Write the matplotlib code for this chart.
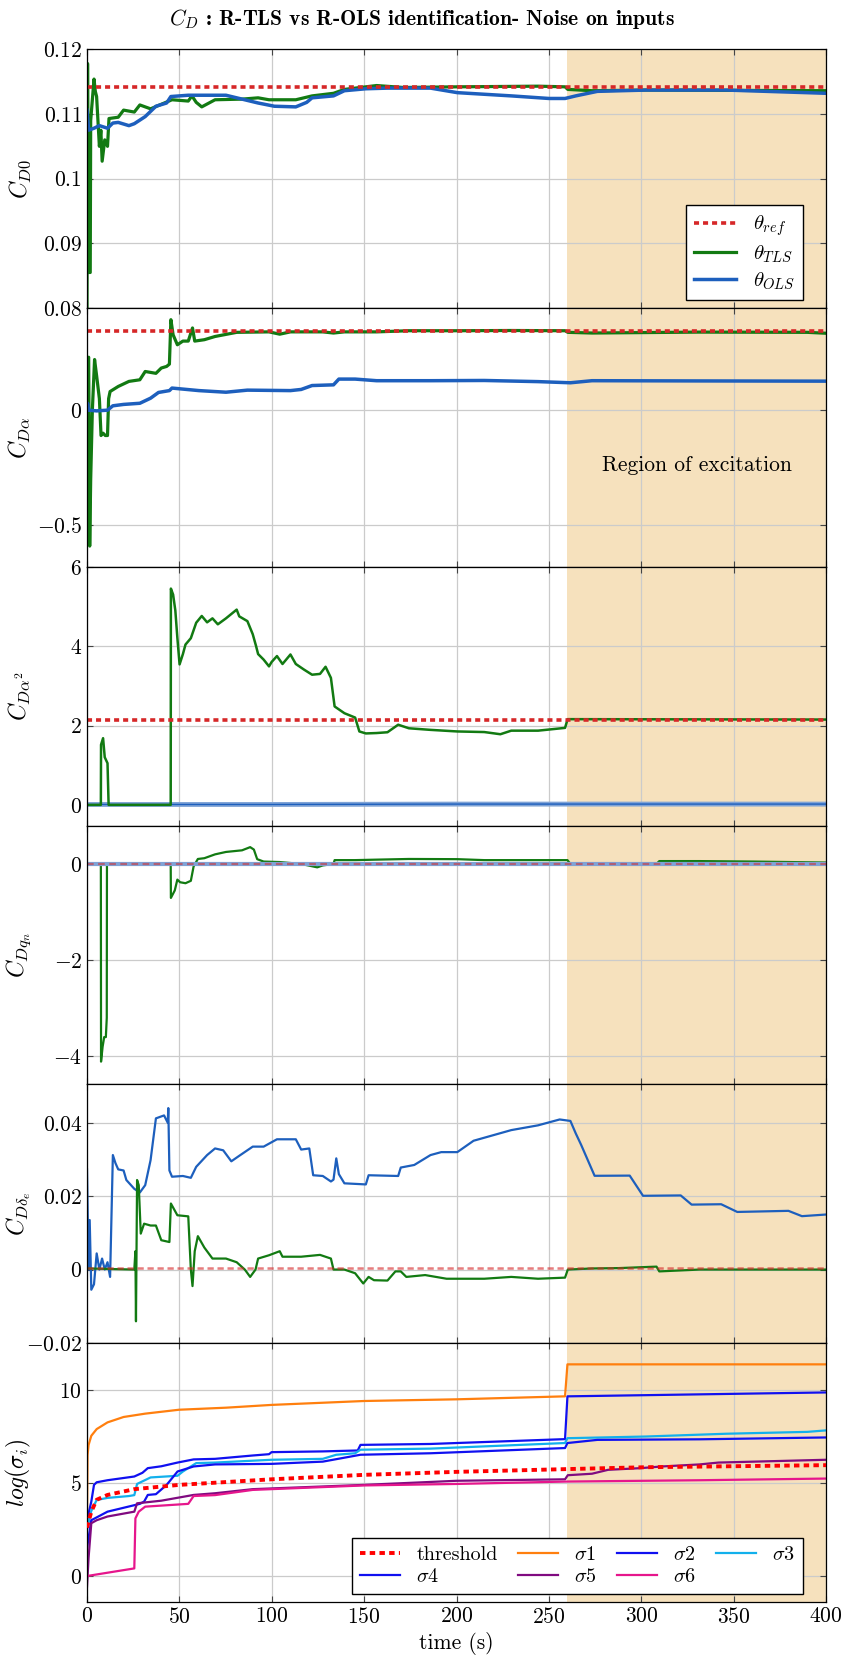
import matplotlib
matplotlib.use('Agg')
import matplotlib.pyplot as plt
from matplotlib.ticker import FuncFormatter

plt.rcParams['font.family'] = 'serif'
plt.rcParams['font.serif'] = ['cmr10', 'DejaVu Serif']
plt.rcParams['mathtext.fontset'] = 'cm'
plt.rcParams['axes.formatter.use_mathtext'] = True

# colours
c_ref = '#d62728'
c_tls = '#127a12'
c_ols = '#1d5fbd'
c_region = '#f6e1bd'

# ---------------- data ----------------
# C_D0
t_ref = [0, 400]
cd0_ref = [0.1141, 0.1141]
t_cd0_tls = [0, 0.3, 0.9, 1.75, 2.0, 3.8, 4.5, 5.2, 6.7, 7.5, 8.2, 9.6, 11.1, 11.9, 16.9, 19.8, 25.6, 28.6,
             34.4, 40.2, 46.0, 54.8, 56.8, 59.1, 62.1, 69.3, 83.9, 92.6, 98.5, 113.0, 121.8, 133.4, 139.3,
             150.9, 156.7, 171.3, 200.4, 244.1, 258.7, 260.2, 273.3, 302.4, 400]
cd0_tls = [0.080, 0.1178, 0.0855, 0.0855, 0.109, 0.1154, 0.1135, 0.1127, 0.105, 0.1075, 0.1027, 0.106,
           0.105, 0.1093, 0.1095, 0.1106, 0.1103, 0.1114, 0.1108, 0.1115, 0.1122, 0.1120, 0.1128, 0.1118,
           0.1111, 0.1122, 0.1123, 0.1125, 0.1122, 0.1122, 0.1128, 0.1132, 0.1138, 0.1142, 0.1144, 0.1141,
           0.1142, 0.1143, 0.1142, 0.1138, 0.1136, 0.1137, 0.1136]
t_cd0_ols = [0, 0.9, 3.8, 6.7, 11.1, 14.0, 16.9, 22.7, 25.6, 31.5, 37.3, 43.1, 45.4, 54.8, 75.2, 81.0,
             92.6, 101.4, 113.0, 118.9, 121.8, 133.4, 139.3, 150.9, 162.6, 185.9, 200.4, 229.6, 250.0,
             258.7, 264.5, 276.2, 302.4, 346.1, 400]
cd0_ols = [0.1106, 0.1075, 0.1078, 0.1082, 0.1078, 0.1086, 0.1087, 0.1082, 0.1085, 0.1096, 0.1112,
           0.1117, 0.1127, 0.1129, 0.1129, 0.1125, 0.1117, 0.1112, 0.1111, 0.1118, 0.1125, 0.1128, 0.1136,
           0.1139, 0.1140, 0.1140, 0.1133, 0.1128, 0.1124, 0.1124, 0.1128, 0.1135, 0.1137, 0.1137, 0.1132]

# C_Dalpha
cda_ref = [0.345, 0.345]
t_cda_tls = [0, 0.9, 1.46, 2.0, 2.9, 4.1, 5.2, 6.7, 7.6, 8.7, 9.9, 11.1, 11.7, 12.5, 16.9, 22.7, 28.6,
             31.5, 37.3, 40.2, 43.1, 44.6, 45.4, 46.6, 48.9, 51.9, 54.8, 57.1, 58.3, 63.5, 69.3, 81.0,
             98.5, 104.3, 110.1, 127.6, 133.4, 139.3, 156.7, 174.2, 200.4, 229.6, 258.7, 260.2, 273.3,
             302.4, 331.5, 389.8, 400]
cda_tls = [0.21, 0.23, -0.59, -0.3, 0.0, 0.22, 0.15, 0.05, -0.11, -0.10, -0.11, -0.11, 0.05, 0.081,
           0.103, 0.125, 0.132, 0.168, 0.16, 0.183, 0.19, 0.20, 0.393, 0.3275, 0.284, 0.30, 0.30, 0.357,
           0.30, 0.306, 0.32, 0.338, 0.34, 0.33, 0.34, 0.34, 0.335, 0.34, 0.34, 0.345, 0.345, 0.346,
           0.345, 0.338, 0.335, 0.337, 0.339, 0.338, 0.334]
t_cda_ols = [0, 0.3, 0.9, 5.2, 11.1, 14.0, 19.8, 28.6, 34.4, 38.7, 44.6, 46.0, 60.6, 75.2, 86.8, 110.1,
             115.9, 121.8, 133.4, 136.3, 145.1, 156.7, 185.9, 215.0, 244.1, 261.6, 273.3, 331.5, 400]
cda_ols = [0.0, 0.03, 0.0, -0.003, 0.0, 0.019, 0.025, 0.03, 0.052, 0.077, 0.085, 0.096, 0.085, 0.078,
           0.087, 0.085, 0.09, 0.107, 0.11, 0.135, 0.135, 0.128, 0.128, 0.129, 0.124, 0.119, 0.128,
           0.127, 0.126]

# C_Dalpha^2
cda2_ref = [2.14, 2.14]
t_cda2_tls = [0, 7.5, 7.6, 8.7, 9.6, 10.2, 11.1, 11.7, 45.3, 45.4, 46.6, 47.8, 48.9, 50.1, 51.9, 53.3,
              56.2, 59.1, 62.1, 65.0, 67.9, 70.8, 75.2, 81.0, 82.4, 86.8, 89.7, 91.5, 92.6, 95.6, 98.5,
              99.9, 102.8, 105.8, 110.1, 113.0, 117.4, 121.8, 126.1, 129.1, 132.0, 134.0, 139.3, 145.1,
              147.4, 150.9, 156.7, 162.6, 168.4, 174.2, 185.9, 200.4, 215.0, 223.7, 229.6, 244.1, 258.7,
              260.1, 400]
cda2_tls = [0, 0, 1.515, 1.68, 1.2, 1.14, 1.05, 0, 0, 5.45, 5.3, 4.9, 4.21, 3.54, 3.8, 4.04, 4.2, 4.59,
            4.76, 4.6, 4.7, 4.55, 4.7, 4.92, 4.75, 4.63, 4.3, 4.0, 3.8, 3.66, 3.49, 3.6, 3.75, 3.55, 3.79,
            3.55, 3.41, 3.28, 3.3, 3.48, 3.2, 2.48, 2.31, 2.2, 1.85, 1.8, 1.81, 1.83, 2.02, 1.93, 1.89,
            1.85, 1.835, 1.78, 1.87, 1.87, 1.94, 2.16, 2.15]
t_cda2_ols = [0, 100, 200, 300, 400]
cda2_ols = [0.01, 0.01, 0.02, 0.02, 0.02]

# C_Dqn
cdq_ref = [0.0, 0.0]
t_cdq_tls = [0, 7.5, 7.6, 8.45, 9.3, 10.2, 10.7, 10.8, 45.3, 45.4, 47.5, 48.9, 50.4, 53.3, 56.2, 57.7,
             60.0, 63.5, 69.3, 75.2, 83.9, 88.3, 90.3, 92.1, 95.6, 104.3, 115.9, 124.6, 127.6, 133.4,
             134.0, 145.1, 156.7, 174.2, 200.4, 215.0, 244.1, 260.0, 261.6, 308.2, 309.7, 331.5, 360.7, 400]
cdq_tls = [0, 0, -4.11, -3.8, -3.6, -3.6, -3.2, 0, 0, -0.706, -0.55, -0.325, -0.38, -0.4, -0.35, -0.05,
           0.104, 0.12, 0.2, 0.25, 0.284, 0.35, 0.3, 0.1, 0.05, 0.04, 0.0, -0.07, -0.03, 0.0, 0.08, 0.08,
           0.09, 0.104, 0.1, 0.08, 0.08, 0.08, 0.0, 0.0, 0.06, 0.06, 0.05, 0.03]
t_cdq_ols = [0, 400]
cdq_ols = [0.0, 0.0]

# C_Ddelta_e
cde_ref = [0.0003, 0.0003]
t_cde_ols = [0, 0.87, 1.46, 2.33, 3.79, 5.24, 6.7, 8.16, 9.61, 11.1, 12.5, 14.0, 15.4, 16.9, 19.8, 21.3,
             25.6, 28.6, 31.5, 34.4, 37.3, 41.7, 43.7, 44.0, 44.6, 46.0, 51.9, 56.2, 59.1, 65.0, 69.3,
             73.7, 78.1, 82.4, 89.7, 95.6, 102.8, 113.0, 115.9, 120.3, 122.4, 127.6, 132.0, 133.4, 134.9,
             136.3, 139.3, 150.9, 152.4, 168.4, 169.8, 177.1, 185.9, 191.7, 200.4, 209.2, 229.6, 244.1,
             255.8, 261.6, 264.5, 267.4, 274.7, 293.7, 300.9, 321.3, 327.2, 343.2, 351.9, 379.6, 386.9, 400]
cde_ols = [0.0273, 0.0, 0.0135, -0.0055, -0.004, 0.0044, 0.0, 0.003, 0.0, 0.002, -0.002, 0.0312, 0.029,
           0.0273, 0.027, 0.0244, 0.022, 0.021, 0.023, 0.0298, 0.0412, 0.042, 0.040, 0.044, 0.027, 0.0253,
           0.0255, 0.025, 0.028, 0.0312, 0.033, 0.0325, 0.0295, 0.031, 0.0335, 0.0335, 0.0355, 0.0355,
           0.0327, 0.033, 0.0257, 0.0255, 0.024, 0.0245, 0.0303, 0.026, 0.0235, 0.0232, 0.0257, 0.0255,
           0.0278, 0.0285, 0.0312, 0.032, 0.032, 0.0351, 0.038, 0.0393, 0.0409, 0.0405, 0.0371, 0.034,
           0.02555, 0.0256, 0.0201, 0.0202, 0.0177, 0.0178, 0.0157, 0.016, 0.01455, 0.0150]
t_cde_tls = [0, 25.6, 26.2, 26.5, 27.1, 28.0, 29.1, 30.9, 34.4, 37.3, 40.2, 44.6, 45.4, 48.9, 54.8, 56.2,
             57.1, 58.3, 60.0, 63.5, 67.9, 75.2, 81.0, 85.4, 88.3, 91.2, 92.6, 98.5, 104.3, 105.8, 115.9,
             126.1, 132.0, 133.4, 139.3, 145.1, 149.5, 152.4, 155.3, 162.6, 166.9, 169.8, 172.8, 183.0,
             194.6, 215.0, 229.6, 244.1, 258.7, 260.2, 273.3, 287.8, 308.2, 309.7, 331.5, 400]
cde_tls = [0.0003, 0.0, 0.005, -0.0141, 0.0244, 0.023, 0.0098, 0.0125, 0.012, 0.012, 0.008, 0.0075,
           0.018, 0.0148, 0.0145, 0.0, -0.0045, 0.005, 0.0091, 0.006, 0.003, 0.003, 0.002, 0.0, -0.002,
           0.0, 0.003, 0.0039, 0.005, 0.0035, 0.0035, 0.004, 0.003, 0.0, 0.0, -0.001, -0.0038, -0.002,
           -0.0029, -0.003, -0.0005, -0.0005, -0.002, -0.0015, -0.0025, -0.0025, -0.002, -0.0025,
           -0.0022, 0.0, 0.0003, 0.0004, 0.0008, -0.0005, 0.0, 0.0]

# log(sigma_i)
t_thr = [0, 2.33, 5.24, 11.1, 25.6, 49.8, 99.9, 150.0, 199.9, 260.2, 302.4, 400]
thr = [2.6, 3.46, 4.1, 4.36, 4.67, 4.9, 5.2, 5.44, 5.6, 5.75, 5.85, 5.96]
t_s1 = [0, 0.29, 0.87, 2.33, 5.24, 11.1, 19.8, 31.5, 49.8, 75.2, 99.9, 150.0, 199.9, 258.7, 260.0, 400]
s1 = [3.0, 6.5, 7.05, 7.54, 7.9, 8.26, 8.55, 8.73, 8.94, 9.05, 9.2, 9.41, 9.5, 9.66, 11.38, 11.38]
t_s2 = [0, 2.33, 3.79, 5.24, 11.1, 25.6, 30.0, 32.9, 40.2, 49.0, 57.7, 69.3, 89.7, 98.5, 99.9, 127.6,
        146.5, 148.0, 185.9, 258.7, 260.0, 400]
s2 = [3.0, 4.0, 4.9, 5.04, 5.15, 5.35, 5.55, 5.8, 5.9, 6.1, 6.27, 6.3, 6.48, 6.55, 6.66, 6.7, 6.75,
      7.05, 7.1, 7.36, 9.66, 9.87]
t_s3 = [0, 2.33, 5.24, 11.1, 22.7, 25.6, 27.1, 34.4, 49.0, 51.9, 59.1, 69.3, 99.9, 127.6, 134.9, 145.1,
        148.0, 185.9, 258.7, 260.0, 302.4, 346.1, 389.8, 400]
s3 = [2.5, 3.5, 4.09, 4.2, 4.3, 4.35, 4.95, 5.3, 5.39, 5.62, 6.07, 6.1, 6.25, 6.3, 6.52, 6.6, 6.79,
      6.85, 7.15, 7.41, 7.5, 7.65, 7.75, 7.83]
t_s4 = [0, 2.33, 11.1, 28.6, 30.9, 32.9, 37.3, 43.1, 49.0, 57.7, 69.3, 99.9, 127.6, 148.0, 185.9,
        258.7, 260.0, 276.2, 331.5, 400]
s4 = [1.5, 3.0, 3.46, 3.88, 4.0, 4.36, 4.4, 4.9, 5.62, 5.89, 6.0, 6.03, 6.15, 6.52, 6.6, 6.88, 7.15,
      7.32, 7.35, 7.45]
t_s5 = [0, 0.87, 2.33, 5.24, 11.1, 25.6, 27.1, 40.2, 57.7, 69.3, 89.7, 150.0, 199.9, 258.7, 260.2,
        273.3, 282.0, 299.5, 311.1, 331.5, 341.7, 400]
s5 = [-0.57, 1.0, 2.84, 3.0, 3.2, 3.46, 3.91, 4.05, 4.36, 4.45, 4.67, 4.9, 5.12, 5.2, 5.42, 5.5, 5.71,
      5.8, 5.89, 6.0, 6.1, 6.25]
t_s6 = [0, 25.6, 26.2, 28.0, 31.5, 54.8, 57.7, 69.3, 89.7, 150.0, 199.9, 260.2, 331.5, 400]
s6 = [0.0, 0.41, 3.1, 3.46, 3.73, 3.88, 4.3, 4.35, 4.63, 4.87, 4.95, 5.08, 5.15, 5.24]

region = [260, 400]
xticks = [0, 50, 100, 150, 200, 250, 300, 350, 400]

# ---------------- figure ----------------
fig, axs = plt.subplots(6, 1, figsize=(8.43, 16.66), dpi=100, sharex=True)
plt.subplots_adjust(left=0.1032, right=0.980, top=0.9704, bottom=0.0386, hspace=0)
fig.suptitle('$C_D$ : R-TLS vs R-OLS identification- Noise on inputs', fontfamily='cmb10',
             fontsize=15.5, y=0.996)

fmt = FuncFormatter(lambda v, p: '$%g$' % round(v, 6))
dots = (0, (1.4, 1.1))

for ax in axs:
    ax.axvspan(region[0], region[1], color=c_region, lw=0, zorder=0.5)
    ax.grid(color='#cbcbcb', lw=0.9)
    ax.set_xlim(0, 400)
    ax.set_xticks(xticks)
    ax.tick_params(direction='in', top=True, right=True, length=4, labelsize=15.5, color='#444444')
    ax.yaxis.set_major_formatter(fmt)
    for s in ax.spines.values():
        s.set_linewidth(0.9)

# Plot C_D0
axs[0].plot(t_cd0_tls, cd0_tls, color=c_tls, lw=2.3, label=r'$\theta_{TLS}$')
axs[0].plot(t_cd0_ols, cd0_ols, color=c_ols, lw=2.5, label=r'$\theta_{OLS}$')
axs[0].plot(t_ref, cd0_ref, color=c_ref, lw=2.6, ls=dots, label=r'$\theta_{ref}$')
axs[0].set_ylim(0.08, 0.12)
axs[0].set_yticks([0.08, 0.09, 0.1, 0.11, 0.12])
axs[0].set_ylabel('$C_{D0}$', fontsize=17)
h, l = axs[0].get_legend_handles_labels()
axs[0].legend([h[2], h[0], h[1]], [l[2], l[0], l[1]], loc='lower right', bbox_to_anchor=(0.969, 0.03),
              borderaxespad=0, fancybox=False, framealpha=1, edgecolor='black', fontsize=15,
              handlelength=2.0, borderpad=0.4, labelspacing=0.25)

# Plot C_Dalpha
axs[1].plot(t_cda_tls, cda_tls, color=c_tls, lw=2.3)
axs[1].plot(t_cda_ols, cda_ols, color=c_ols, lw=2.5)
axs[1].plot(t_ref, cda_ref, color=c_ref, lw=2.6, ls=dots)
axs[1].set_ylim(-0.68, 0.4435)
axs[1].set_yticks([-0.5, 0])
axs[1].set_ylabel(r'$C_{D\alpha}$', fontsize=17)
axs[1].text(330, -0.24, 'Region of excitation', ha='center', va='center', fontsize=15.5)

# Plot C_Dalpha^2
axs[2].plot(t_cda2_ols, cda2_ols, color='#7fa3d6', lw=3.5)
axs[2].plot(t_cda2_ols, cda2_ols, color=c_ols, lw=1.0)
axs[2].plot(t_cda2_tls, cda2_tls, color=c_tls, lw=1.8)
axs[2].plot(t_ref, cda2_ref, color=c_ref, lw=2.6, ls=dots)
axs[2].set_ylim(-0.52, 6)
axs[2].set_yticks([0, 2, 4, 6])
axs[2].set_ylabel(r'$C_{D\alpha^2}$', fontsize=17)

# Plot C_Dqn
axs[3].plot(t_cdq_tls, cdq_tls, color=c_tls, lw=1.6)
axs[3].plot(t_cdq_ols, cdq_ols, color='#7fa3d6', lw=3.0)
axs[3].plot(t_ref, cdq_ref, color=c_ref, lw=1.6, ls=(0, (3, 2)), alpha=0.55)
axs[3].set_ylim(-4.58, 0.8)
axs[3].set_yticks([-4, -2, 0])
axs[3].set_ylabel('$C_{Dq_n}$', fontsize=17)

# Plot C_Ddelta_e
axs[4].plot(t_cde_ols, cde_ols, color=c_ols, lw=1.6)
axs[4].plot(t_cde_tls, cde_tls, color=c_tls, lw=1.6)
axs[4].plot(t_ref, cde_ref, color=c_ref, lw=1.8, ls=(0, (2.5, 1.5)), alpha=0.6)
axs[4].set_ylim(-0.02, 0.0505)
axs[4].set_yticks([-0.02, 0, 0.02, 0.04])
axs[4].set_ylabel(r'$C_{D\delta_e}$', fontsize=17)

# Plot log(sigma_i)
l_thr, = axs[5].plot(t_thr, thr, color='#ff0000', lw=2.8, ls=dots, zorder=3, label='threshold')
l1, = axs[5].plot(t_s1, s1, color='#ff7f0e', lw=1.6, label=r'$\sigma 1$')
l2, = axs[5].plot(t_s2, s2, color='#1010f0', lw=1.6, label=r'$\sigma 2$')
l3, = axs[5].plot(t_s3, s3, color='#12b0ec', lw=1.6, label=r'$\sigma 3$')
l4, = axs[5].plot(t_s4, s4, color='#1010f0', lw=1.6, label=r'$\sigma 4$')
l5, = axs[5].plot(t_s5, s5, color='#800a80', lw=1.6, label=r'$\sigma 5$')
l6, = axs[5].plot(t_s6, s6, color='#e6168c', lw=1.6, label=r'$\sigma 6$')
axs[5].set_ylim(-1.38, 12.53)
axs[5].set_yticks([0, 5, 10])
axs[5].set_ylabel(r'$log(\sigma_i)$', fontsize=17)
axs[5].set_xlabel('time (s)', fontsize=15.5)
axs[5].legend([l_thr, l4, l1, l5, l2, l6, l3],
              ['threshold', r'$\sigma 4$', r'$\sigma 1$', r'$\sigma 5$', r'$\sigma 2$', r'$\sigma 6$', r'$\sigma 3$'],
              ncol=4, loc='lower right', bbox_to_anchor=(0.969, 0.029), borderaxespad=0,
              fancybox=False, framealpha=1, edgecolor='black', fontsize=14.5,
              handlelength=2.0, columnspacing=1.0, labelspacing=0.2, borderpad=0.4)

for ax in axs:
    ax.yaxis.set_label_coords(-0.073, 0.5)

plt.savefig('out.png', dpi=100)
